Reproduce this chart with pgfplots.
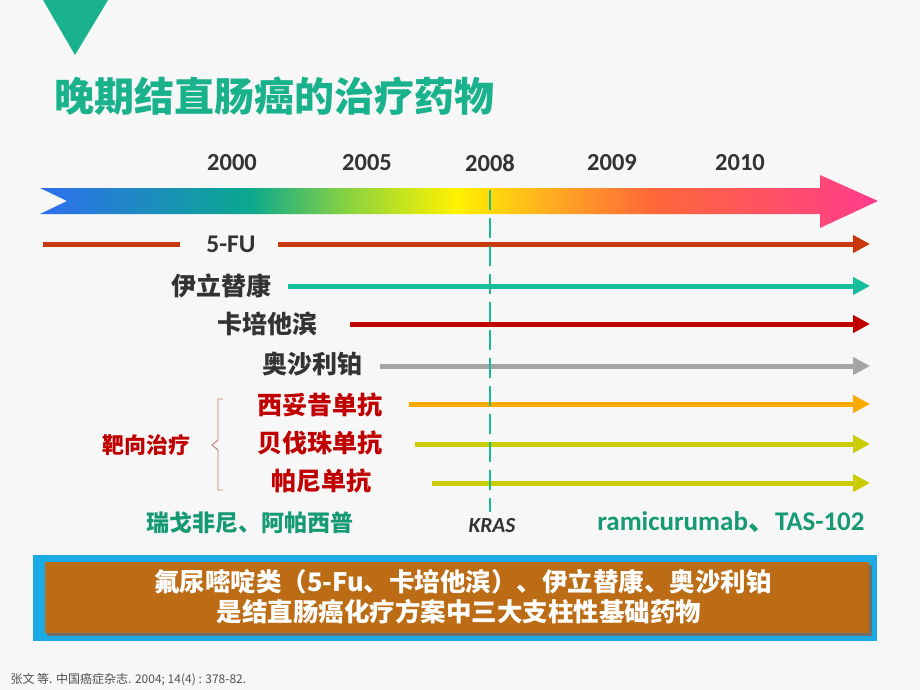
\documentclass[border=0pt]{standalone}
\usepackage{pgfplots}
\pgfplotsset{compat=1.18}
\usetikzlibrary{arrows.meta}
\usepackage{fontspec}
\setmainfont{Carlito}
\newfontfamily\cjk{Noto Sans CJK SC}
\definecolor{bg}{RGB}{247,247,247}
\definecolor{teal1}{RGB}{25,178,140}
\definecolor{teal2}{RGB}{22,154,116}
\definecolor{dark}{RGB}{51,51,51}
\definecolor{cfu}{RGB}{200,56,10}
\definecolor{cir}{RGB}{22,190,155}
\definecolor{ccap}{RGB}{192,0,0}
\definecolor{cox}{RGB}{165,165,165}
\definecolor{ccet}{RGB}{255,170,0}
\definecolor{cbev}{RGB}{200,204,0}
\definecolor{cred}{RGB}{192,0,0}
\definecolor{cyanb}{RGB}{26,171,230}
\definecolor{brown1}{RGB}{188,108,20}
\definecolor{dash1}{RGB}{27,185,143}
\pgfdeclarehorizontalshading{tlgrad}{100bp}{%
rgb(0bp)=(0.184,0.435,0.937);
rgb(25bp)=(0.184,0.435,0.937);
rgb(37.5bp)=(0.04,0.66,0.56);
rgb(43.5bp)=(0.55,0.83,0.24);
rgb(49.8bp)=(1,0.95,0);
rgb(56bp)=(1,0.65,0.14);
rgb(61.4bp)=(1,0.41,0.22);
rgb(75bp)=(1,0.235,0.55);
rgb(100bp)=(1,0.235,0.55)}
\begin{document}
\begin{tikzpicture}
\begin{axis}[scale only axis, width=920pt, height=690pt,
  xmin=0, xmax=920, ymin=0, ymax=690, y dir=reverse, hide axis]
% background
\addplot[fill=bg, draw=none] coordinates {(0,0) (920,0) (920,690) (0,690)} -- cycle;
% top triangle
\addplot[fill=teal1, draw=none] coordinates {(43,0) (108,0) (75,55)} -- cycle;
% gradient timeline arrow
\addplot[draw=none, shading=tlgrad] coordinates {(40,188) (820,188) (820,175) (878,201) (820,228) (820,214) (40,214) (67,201)} -- cycle;
% drug lines
\addplot[cfu, line width=5pt] coordinates {(43,244) (180,244)};
\addplot[cfu, line width=5pt, -{Triangle[length=17pt,width=17pt]}] coordinates {(278,244) (870,244)};
\addplot[cir, line width=5pt, -{Triangle[length=17pt,width=17pt]}] coordinates {(288,286) (870,286)};
\addplot[ccap, line width=5pt, -{Triangle[length=17pt,width=17pt]}] coordinates {(350,324) (870,324)};
\addplot[cox, line width=5pt, -{Triangle[length=17pt,width=17pt]}] coordinates {(380,366) (870,366)};
\addplot[ccet, line width=5pt, -{Triangle[length=17pt,width=17pt]}] coordinates {(409,404) (870,404)};
\addplot[cbev, line width=5pt, -{Triangle[length=17pt,width=17pt]}] coordinates {(415,444) (870,444)};
\addplot[cbev, line width=5pt, -{Triangle[length=17pt,width=17pt]}] coordinates {(432,483) (870,483)};
% KRAS dashed line
\addplot[dash1, line width=2.5pt, dash pattern=on 20pt off 8pt] coordinates {(490,190) (490,512)};
% brace
\addplot[color={rgb,255:red,200;green,120;blue,120}, line width=0.9pt] coordinates {(223,399) (218,399) (218,440) (212,445) (218,450) (218,490) (223,490)};
% bottom box
\addplot[fill=cyanb, draw=none] coordinates {(33,555) (877,555) (877,641) (33,641)} -- cycle;
\addplot[fill={rgb,255:red,110;green,110;blue,110}, draw=none] coordinates {(47,565) (872,565) (872,636) (47,636)} -- cycle;
\addplot[fill=brown1, draw=none] coordinates {(45,562) (869,562) (869,633) (45,633)} -- cycle;
% title
\node[anchor=west, text=teal1, font={\cjk\bfseries\fontsize{40}{44}\selectfont}] at (axis cs:51,96) {晚期结直肠癌的治疗药物};
% years
\foreach \x/\yr in {232/2000, 367/2005, 490/2008, 612/2009, 740/2010}{
  \edef\temp{\noexpand\node[text=dark, font={\noexpand\bfseries\noexpand\fontsize{24.5}{28}\noexpand\selectfont}] at (axis cs:\x,163) {\yr};}
  \temp
}
% drug labels
\node[text=dark, font={\bfseries\fontsize{25.5}{28}\selectfont}] at (axis cs:231,244) {5-FU};
\node[text=dark, font={\cjk\bfseries\fontsize{25}{30}\selectfont}] at (axis cs:221,286) {伊立替康};
\node[text=dark, font={\cjk\bfseries\fontsize{25}{30}\selectfont}] at (axis cs:267,324) {卡培他滨};
\node[text=dark, font={\cjk\bfseries\fontsize{25}{30}\selectfont}] at (axis cs:312,364) {奥沙利铂};
\node[text=cred, font={\cjk\bfseries\fontsize{25}{30}\selectfont}] at (axis cs:320,405) {西妥昔单抗};
\node[text=cred, font={\cjk\bfseries\fontsize{25}{30}\selectfont}] at (axis cs:320,443) {贝伐珠单抗};
\node[text=cred, font={\cjk\bfseries\fontsize{25}{30}\selectfont}] at (axis cs:321,481) {帕尼单抗};
\node[text=cred, font={\cjk\bfseries\fontsize{22}{26}\selectfont}] at (axis cs:146,445) {靶向治疗};
\node[text=teal2, font={\cjk\bfseries\fontsize{23}{26}\selectfont}] at (axis cs:250,523) {瑞戈非尼、阿帕西普};
\node[text=teal2, font={\bfseries\fontsize{27}{30}\selectfont}] at (axis cs:731,522) {ramicurumab{\cjk 、}TAS-102};
\node[text=dark, font={\bfseries\itshape\fontsize{21.5}{24}\selectfont}] at (axis cs:492,526) {KRAS};
% box text
\node[text=white, font={\cjk\bfseries\fontsize{25.5}{28}\selectfont}] at (axis cs:463,582) {氟尿嘧啶类（5-Fu、卡培他滨）、伊立替康、奥沙利铂};
\node[text=white, font={\cjk\bfseries\fontsize{25.5}{28}\selectfont}] at (axis cs:459,612) {是结直肠癌化疗方案中三大支柱性基础药物};
% footnote
\node[anchor=west, text={rgb,255:red,80;green,80;blue,80}, font={\cjk\fontsize{12}{14}\selectfont}] at (axis cs:7,680) {张文 等. 中国癌症杂志. 2004; 14(4) : 378-82.};
\end{axis}
\end{tikzpicture}
\end{document}
